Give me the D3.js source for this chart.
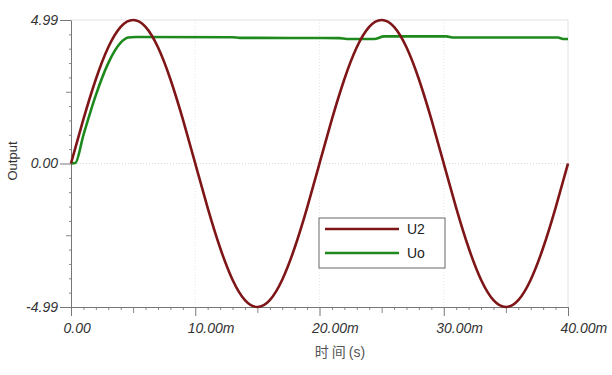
<!DOCTYPE html>
<html>
<head>
<meta charset="utf-8">
<script src="https://cdn.jsdelivr.net/npm/d3@7"></script>
<style>
  html, body { margin: 0; padding: 0; background: #fff; }
  svg { display: block; }
</style>
</head>
<body>
<div id="chart"></div>
<script>
// time in ms, values in volts
const u2Time = [0,1,2,3,4,5,6,7,8,9,10,11,12,13,14,15,16,17,18,19,20,
                21,22,23,24,25,26,27,28,29,30,31,32,33,34,35,36,37,38,39,40];
const u2Vals = [0,1.54,2.93,4.04,4.75,4.99,4.75,4.04,2.93,1.54,0,
                -1.54,-2.93,-4.04,-4.75,-4.99,-4.75,-4.04,-2.93,-1.54,0,
                1.54,2.93,4.04,4.75,4.99,4.75,4.04,2.93,1.54,0,
                -1.54,-2.93,-4.04,-4.75,-4.99,-4.75,-4.04,-2.93,-1.54,0];

const uoTime = [0,0.35,1,2,3,4,4.6,5.2,13.0,13.6,21.6,22.2,24.4,25.2,30.2,30.8,39.2,39.6,40];
const uoVals = [0,0.02,0.99,2.38,3.49,4.2,4.38,4.40,4.39,4.37,4.36,4.33,4.33,4.42,4.42,4.38,4.38,4.33,4.33];

const seriesNames = ['U2', 'Uo'];
const xTicks = [0, 10, 20, 30, 40];
const xTickLabels = ['0.00', '10.00m', '20.00m', '30.00m', '40.00m'];
const yTicks = [4.99, 0, -4.99];
const yTickLabels = ['4.99', '0.00', '-4.99'];

const W = 612, H = 375;
const [pLeft, pRight, pTop, pBottom] = [71, 568, 20, 307];
const font = '"Liberation Sans", Arial, sans-serif';

const svg = d3.select('#chart').append('svg')
  .attr('width', W)
  .attr('height', H);

const x = d3.scaleLinear().domain([0, 40]).range([pLeft, pRight]);
const y = d3.scaleLinear().domain([-4.99, 4.99]).range([pBottom, pTop]);

// frame + dotted grid
svg.append('path')
  .attr('d', `M${pLeft},${pTop}H${pRight}V${pBottom}`)
  .attr('fill', 'none').attr('stroke', '#e2e2e2').attr('stroke-width', 1);

svg.append('line')
  .attr('x1', pLeft).attr('x2', pRight).attr('y1', y(0)).attr('y2', y(0))
  .attr('stroke', '#d8d8d8').attr('stroke-dasharray', '1,2');

svg.selectAll('.vgrid').data([10, 20, 30]).enter().append('line')
  .attr('x1', d => x(d)).attr('x2', d => x(d)).attr('y1', pTop).attr('y2', pBottom)
  .attr('stroke', '#e6e6e6').attr('stroke-dasharray', '1,2');

// minor ticks
const xMinor = d3.range(0, 40.01, 1).filter(d => d % 5 !== 0);
const xMid = [5, 15, 25, 35];
const yMinor = d3.range(-10, 11).filter(i => i % 5 !== 0).map(i => i * 0.499);
const yMid = [2.495, -2.495];

const styleAxis = g => {
  g.select('.domain').attr('stroke', '#777');
  g.selectAll('.tick line').attr('stroke', '#777');
  g.selectAll('text').attr('fill', '#333').style('font-family', font)
    .style('font-size', '14px').style('font-style', 'italic');
};

svg.append('g').attr('transform', `translate(0,${pBottom})`)
  .call(d3.axisBottom(x).tickValues(xMinor).tickSize(3).tickFormat(''))
  .call(g => g.select('.domain').remove())
  .selectAll('line').attr('stroke', '#888');
svg.append('g').attr('transform', `translate(0,${pBottom})`)
  .call(d3.axisBottom(x).tickValues(xMid).tickSize(6).tickFormat(''))
  .call(g => g.select('.domain').remove())
  .selectAll('line').attr('stroke', '#888');

const xAxis = svg.append('g').attr('transform', `translate(0,${pBottom})`)
  .call(d3.axisBottom(x).tickValues(xTicks).tickSizeInner(9).tickSizeOuter(0)
    .tickPadding(7).tickFormat((d, i) => xTickLabels[i]))
  .call(styleAxis);
xAxis.selectAll('text').attr('text-anchor', 'start').attr('dx', -8);

svg.append('g').attr('transform', `translate(${pLeft},0)`)
  .call(d3.axisLeft(y).tickValues(yMinor).tickSize(2).tickFormat(''))
  .call(g => g.select('.domain').remove())
  .selectAll('line').attr('stroke', '#888');
svg.append('g').attr('transform', `translate(${pLeft},0)`)
  .call(d3.axisLeft(y).tickValues(yMid).tickSize(5).tickFormat(''))
  .call(g => g.select('.domain').remove())
  .selectAll('line').attr('stroke', '#888');

svg.append('g').attr('transform', `translate(${pLeft},0)`)
  .call(d3.axisLeft(y).tickValues(yTicks).tickSizeInner(11).tickSizeOuter(0)
    .tickPadding(2).tickFormat((d, i) => yTickLabels[i]))
  .call(styleAxis);

// axis titles
const xTitle = svg.append('text')
  .attr('x', 340).attr('y', 357).attr('text-anchor', 'middle')
  .attr('fill', '#555').style('font-family', '"Noto Sans CJK SC", ' + font)
  .style('font-size', '14px');
xTitle.append('tspan').style('letter-spacing', '3px').text('时间');
xTitle.append('tspan').style('font-family', font).text('(s)');

svg.append('text')
  .attr('transform', `translate(17,161) rotate(-90)`).attr('text-anchor', 'middle')
  .attr('fill', '#333').style('font-family', font)
  .style('font-size', '13px').text('Output');

// traces
const u2Data = u2Time.map((t, i) => [t, u2Vals[i]]);
const uoData = uoTime.map((t, i) => [t, uoVals[i]]);

svg.append('path').datum(uoData)
  .attr('fill', 'none').attr('stroke', '#1e8a1e').attr('stroke-width', 2.6)
  .attr('stroke-linejoin', 'round')
  .attr('d', d3.line().x(d => x(d[0])).y(d => y(d[1])).curve(d3.curveMonotoneX));

svg.append('path').datum(u2Data)
  .attr('fill', 'none').attr('stroke', '#7e1618').attr('stroke-width', 2.6)
  .attr('d', d3.line().x(d => x(d[0])).y(d => y(d[1])).curve(d3.curveNatural));

// legend
const colors = ['#7e1618', '#1e8a1e'];
const lg = svg.append('g').attr('transform', 'translate(319,218)');
lg.append('rect').attr('width', 126).attr('height', 50)
  .attr('fill', '#fff').attr('stroke', '#666').attr('stroke-width', 1);
seriesNames.forEach((name, i) => {
  const yy = 11 + i * 24;
  lg.append('line').attr('x1', 6).attr('x2', 80).attr('y1', yy).attr('y2', yy)
    .attr('stroke', colors[i]).attr('stroke-width', 2.6);
  lg.append('text').attr('x', 88).attr('y', yy + 5)
    .attr('fill', '#222').style('font-family', font).style('font-size', '14px')
    .text(name);
});
</script>
</body>
</html>
